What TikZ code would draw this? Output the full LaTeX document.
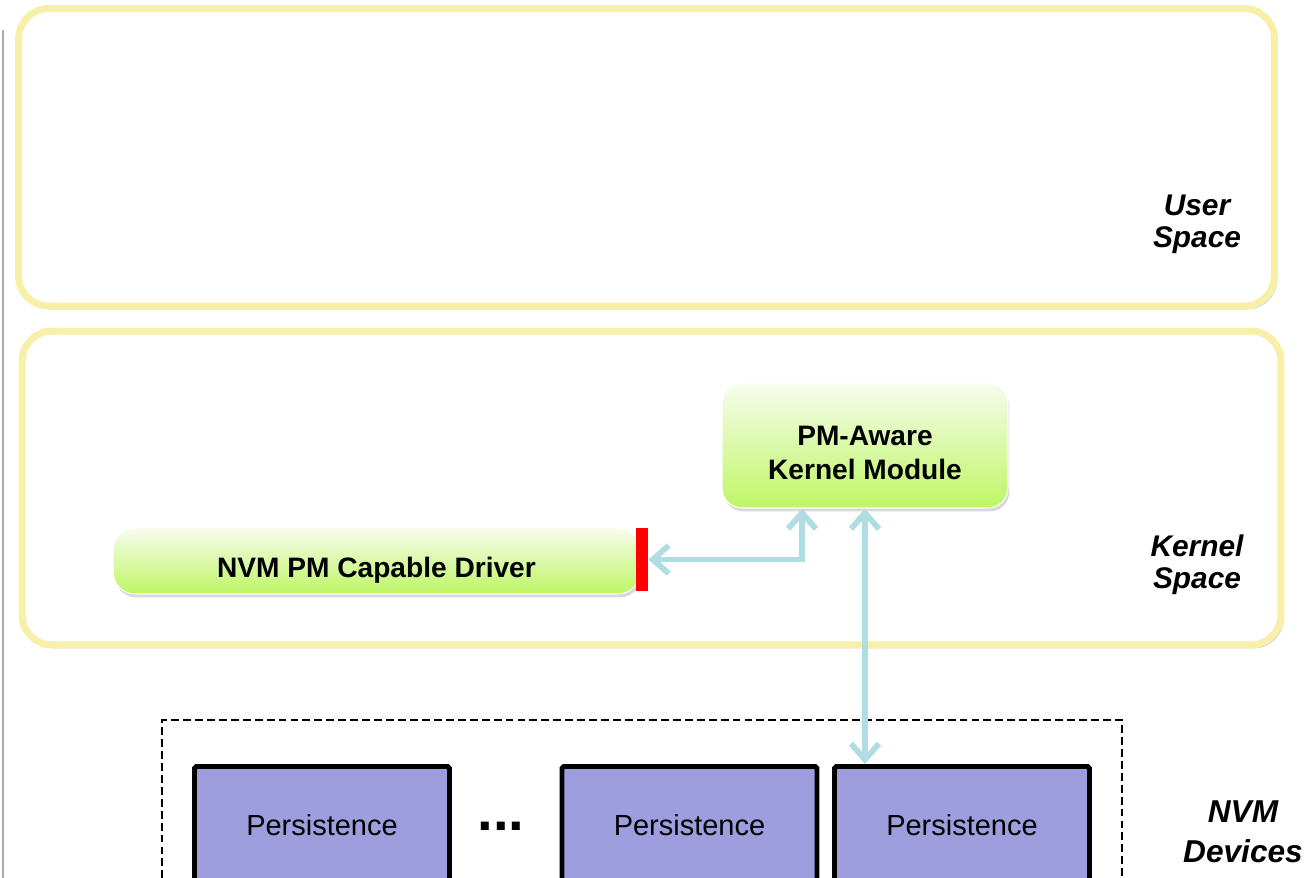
\documentclass[tikz,border=0pt]{standalone}
\usepackage{fontspec}
\setmainfont{Liberation Sans}
\usetikzlibrary{arrows.meta,shadows,positioning}
\definecolor{spaceyellow}{RGB}{248,240,168}
\definecolor{linkblue}{RGB}{176,221,226}
\definecolor{nvmpurple}{RGB}{158,158,222}
\definecolor{greentop}{RGB}{247,252,238}
\definecolor{greenbot}{RGB}{190,246,100}
\tikzset{
  spacebox/.style={draw=spaceyellow, line width=4pt, fill=white, rounded corners=0.6cm,
    drop shadow={shadow xshift=0.06cm, shadow yshift=-0.07cm, opacity=0.3}},
  greenbox/.style={draw=white, line width=0.6pt, top color=greentop, bottom color=greenbot,
    rounded corners=0.4cm, align=center, font=\fontsize{16}{19.3}\selectfont\bfseries,
    drop shadow={shadow xshift=0.03cm, shadow yshift=-0.07cm, opacity=0.3}},
  perbox/.style={draw=black, line width=2.8pt, fill=nvmpurple, rounded corners=1pt,
    minimum width=5.1cm, minimum height=2.34cm, font=\fontsize{16.5}{19}\selectfont},
  lbl/.style={align=center, font=\fontsize{17}{18.2}\selectfont\bfseries\itshape},
  linkarrow/.style={linkblue, line width=3.3pt, >={Straight Barb[length=0.32cm,width=0.56cm]}, <->}
}

\begin{document}
\begin{tikzpicture}[x=0.02cm, y=-0.02cm]
\useasboundingbox (0,0) rectangle (1312,878);
\clip (0,0) rectangle (1312,878);

\draw[gray!65, line width=1.1pt] (3,30) -- (3,878);

\node[spacebox, minimum width=25.12cm, minimum height=5.95cm] (user) at (646.5,157.3) {};
\node[spacebox, minimum width=25.18cm, minimum height=6.28cm] (kernel) at (651.5,488) {};

\node[greenbox, minimum width=5.72cm, minimum height=2.5cm] (module) at (865,445.5)
  {\raisebox{0pt}[\dimexpr\height+0.4cm][\depth]{\begin{tabular}{@{}c@{}}PM-Aware\\Kernel Module\end{tabular}}};
\node[greenbox, minimum width=10.54cm, minimum height=1.32cm, rounded corners=0.44cm] (driver) at (376.5,561)
  {\raisebox{0pt}[\dimexpr\height+0.36cm][\depth]{NVM PM Capable Driver}};
\node[fill=red, inner sep=0pt, minimum width=0.24cm, minimum height=1.26cm] (drvbar) at (642,559.5) {};

\draw[linkarrow] (drvbar.east) -| ([xshift=-1.26cm]module.south);

\node[draw=black, dashed, line width=1.1pt, dash pattern=on 4.5pt off 2.3pt,
  minimum width=19.2cm, minimum height=4cm] (devices) at (642,820) {};

\node[perbox] (pers1) at (322,825) {Persistence};
\node[perbox] (pers2) at (689.5,825) {Persistence};
\node[perbox] (pers3) at (962,825) {Persistence};
\node[font=\fontsize{32}{36}\selectfont\bfseries, inner sep=0pt] (dots) at (501,826) {...};

\draw[linkarrow] (module.south) -- (module.south |- pers3.north);

\node[lbl] (userlbl) at (1197,224) {User\\Space};
\node[lbl] (kernellbl) at (1197,565) {Kernel\\Space};
\node[lbl, font=\fontsize{18}{22.7}\selectfont\bfseries\itshape] (nvmlbl) at (1243,832) {NVM\\Devices};
\end{tikzpicture}
\end{document}
